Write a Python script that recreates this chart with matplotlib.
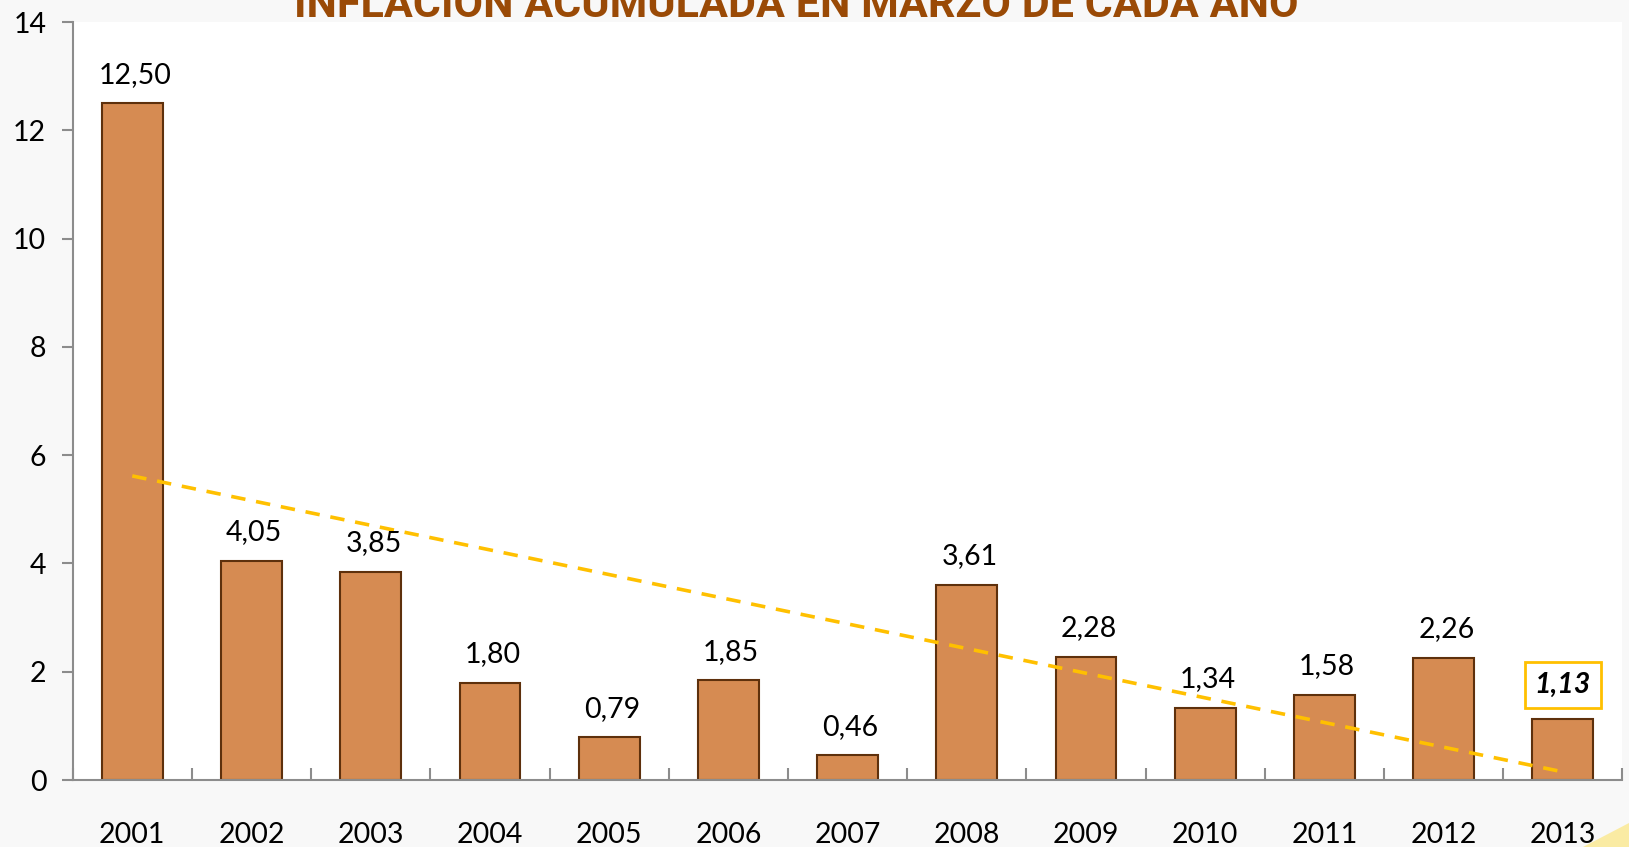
"""
Inflación acumulada en marzo de cada año (2001-2013), bars + linear trend.
"""

import numpy as np
import matplotlib.pyplot as plt
from matplotlib.patches import Polygon

years = ["2001", "2002", "2003", "2004", "2005", "2006", "2007",
         "2008", "2009", "2010", "2011", "2012", "2013"]
inflation = [12.50, 4.05, 3.85, 1.80, 0.79, 1.85, 0.46,
             3.61, 2.28, 1.34, 1.58, 2.26, 1.13]
title = "INFLACIÓN ACUMULADA EN MARZO DE CADA AÑO"

BAR_COLOR = "#D68B52"
EDGE_COLOR = "#5E300C"
TREND_COLOR = "#FFC000"
TITLE_COLOR = "#9A4A06"

plt.rcParams["font.family"] = ["Lato", "DejaVu Sans"]

fig = plt.figure(figsize=(16.29, 8.47), dpi=100, facecolor="#F8F8F8")
ax = fig.add_axes([0.0446, 0.079, 0.9514, 0.895])
ax.set_facecolor("white")

x = np.arange(len(years))
ax.bar(x, inflation, width=0.51, color=BAR_COLOR, edgecolor=EDGE_COLOR,
       linewidth=1.5, zorder=2)

# Linear trend over the series (Excel-style trendline)
coef = np.polyfit(x, inflation, 1)
ax.plot(x, np.polyval(coef, x), color=TREND_COLOR, linestyle=(0, (4, 3)),
        linewidth=2.6, zorder=3)

# Value labels
for xi, v in zip(x[:-1], inflation[:-1]):
    ax.annotate(f"{v:.2f}".replace(".", ","), (xi, v), xytext=(2, 11),
                textcoords="offset points", ha="center", va="bottom",
                fontsize=20.5, color="black", zorder=4)
last = inflation[-1]
ax.annotate(f"{last:.2f}".replace(".", ","), (x[-1], last), xytext=(0, 15),
            textcoords="offset points", ha="center", va="bottom",
            fontsize=20.5, fontweight="bold", fontstyle="italic", color="black",
            bbox=dict(boxstyle="square,pad=0.35", fc="white", ec=TREND_COLOR, lw=2),
            zorder=4)

ax.set_xlim(-0.5, len(years) - 0.5)
ax.set_ylim(0, 14)
ax.set_yticks(range(0, 15, 2))
ax.set_xticks(x)
ax.set_xticklabels(years)
ax.set_xticks(np.arange(-0.5, len(years), 1.0), minor=True)

for side in ("top", "right"):
    ax.spines[side].set_visible(False)
for side in ("left", "bottom"):
    ax.spines[side].set_color("#8C8C8C")
    ax.spines[side].set_linewidth(1.5)

ax.tick_params(axis="y", which="major", direction="out", length=8, width=1.5,
               color="#8C8C8C", labelsize=20.5, pad=11)
ax.tick_params(axis="x", which="major", direction="in", length=6, width=1.5,
               color="#8C8C8C", labelsize=20.5, pad=30)
ax.tick_params(axis="x", which="minor", direction="in", length=9, width=1.5,
               color="#8C8C8C")

# Title: sits at the very top edge and is clipped by the figure boundary
fig.text(0.489, 1 - 17 / 847, title, ha="center", va="baseline",
         fontsize=31, fontweight="bold", color=TITLE_COLOR,
         family=["Liberation Sans Narrow", "Roboto", "DejaVu Sans"])

# Decorative yellow swoosh in the bottom-right corner
swoosh = Polygon([[0.972, 0.0], [1.0, 0.0], [1.0, 0.028]], closed=True,
                 transform=fig.transFigure, facecolor="#FCE680", alpha=0.7,
                 edgecolor="none", zorder=0)
fig.patches.append(swoosh)

fig.savefig("out.png", dpi=100, facecolor=fig.get_facecolor())
